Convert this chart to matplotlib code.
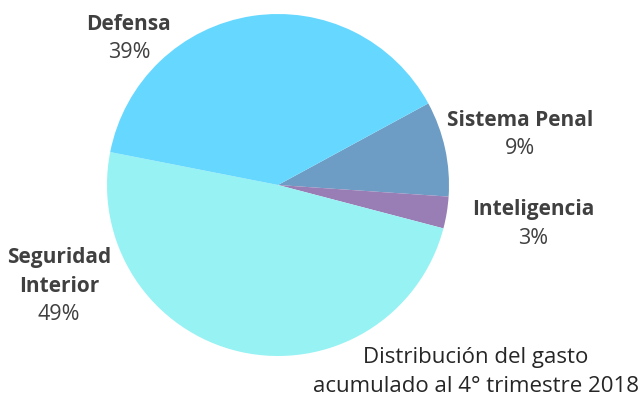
import matplotlib
matplotlib.use("Agg")
import matplotlib.pyplot as plt

categories = ["Sistema Penal", "Inteligencia", "Seguridad Interior", "Defensa"]
shares = [9, 3, 49, 39]
name_lines = [["Sistema Penal"], ["Inteligencia"], ["Seguridad", "Interior"], ["Defensa"]]
colors = ["#6D9DC5", "#997DB5", "#96F2F3", "#66D8FF"]
title_lines = ["Distribución del gasto", "acumulado al 4° trimestre 2018"]

W, H = 644, 400
fig = plt.figure(figsize=(W / 100, H / 100), dpi=100)
ax = fig.add_axes([0, 0, 1, 1])

cx, cy, r = 278, 185, 171
ax.pie(shares, colors=colors, startangle=-28.5, counterclock=True,
       radius=r, center=(cx, cy), frame=True,
       wedgeprops=dict(linewidth=0))
ax.set_xlim(0, W)
ax.set_ylim(H, 0)
ax.set_aspect("equal")
ax.axis("off")

font = "Open Sans"
txt = "#404040"
# label centre x and y of the first line; lines are 28 px apart
label_pos = {
    "Defensa": (129, 24),
    "Sistema Penal": (520, 121),
    "Inteligencia": (533, 210),
    "Seguridad Interior": (59, 258),
}
step = 28
for cat, lines, v in zip(categories, name_lines, shares):
    x, y = label_pos[cat]
    for i, line in enumerate(lines):
        ax.text(x, y + i * step, line, ha="center", va="center", fontsize=15,
                fontweight="bold", color=txt, family=font)
    ax.text(x, y + len(lines) * step, f"{v}%", ha="center", va="center",
            fontsize=15.5, color=txt, family=font)

for i, line in enumerate(title_lines):
    ax.text(476, 357 + i * 30, line, ha="center", va="center", fontsize=16,
            color="#262626", family=font)

fig.savefig("out.png", dpi=100)
